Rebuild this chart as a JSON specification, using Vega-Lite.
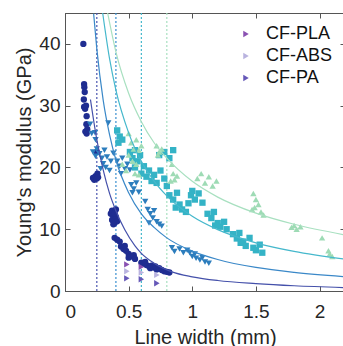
{
  "$schema": "https://vega.github.io/schema/vega-lite/v6.json",
  "width": 280,
  "height": 278,
  "autosize": {"type": "none"},
  "padding": {"left": 65, "top": 13, "right": 0, "bottom": 55},
  "background": "white",
  "config": {
    "view": {"stroke": "#555", "strokeWidth": 1},
    "font": "Liberation Sans",
    "axis": {"grid": false, "domainColor": "#555", "tickColor": "#555", "labelColor": "#262626", "titleColor": "#262626", "labelFontSize": 19, "titleFontSize": 20, "titleFontWeight": "normal", "tickSize": -5, "labelFont": "Liberation Sans", "titleFont": "Liberation Sans"},
    "legend": {"labelFont": "Liberation Sans"}
  },
  "datasets": {
    "rules": [
      {"x": 0.25, "c": "N"}, {"x": 0.4, "c": "B"}, {"x": 0.6, "c": "C"}, {"x": 0.8, "c": "G"}
    ],
    "curves": [
      {"c": "N", "x": 0.2, "y": 31}, {"c": "N", "x": 0.25, "y": 24.5}, {"c": "N", "x": 0.3, "y": 19.6}, {"c": "N", "x": 0.35, "y": 15.8}, {"c": "N", "x": 0.4, "y": 13.0}, {"c": "N", "x": 0.47, "y": 9.9}, {"c": "N", "x": 0.55, "y": 7.3}, {"c": "N", "x": 0.6, "y": 6.1}, {"c": "N", "x": 0.7, "y": 4.5}, {"c": "N", "x": 0.84, "y": 3.1}, {"c": "N", "x": 1.0, "y": 2.3}, {"c": "N", "x": 1.2, "y": 1.7}, {"c": "N", "x": 1.5, "y": 1.2}, {"c": "N", "x": 1.8, "y": 0.85}, {"c": "N", "x": 2.2, "y": 0.55},
      {"c": "B", "x": 0.225, "y": 44.9}, {"c": "B", "x": 0.25, "y": 39.2}, {"c": "B", "x": 0.3, "y": 30.9}, {"c": "B", "x": 0.35, "y": 25.3}, {"c": "B", "x": 0.4, "y": 21.2}, {"c": "B", "x": 0.5, "y": 15.9}, {"c": "B", "x": 0.6, "y": 12.5}, {"c": "B", "x": 0.7, "y": 10.3}, {"c": "B", "x": 0.8, "y": 8.6}, {"c": "B", "x": 1.0, "y": 6.46}, {"c": "B", "x": 1.2, "y": 5.1}, {"c": "B", "x": 1.5, "y": 3.81}, {"c": "B", "x": 1.8, "y": 3.01}, {"c": "B", "x": 2.2, "y": 2.32},
      {"c": "C", "x": 0.296, "y": 45}, {"c": "C", "x": 0.35, "y": 37.6}, {"c": "C", "x": 0.4, "y": 32.5}, {"c": "C", "x": 0.5, "y": 25.6}, {"c": "C", "x": 0.6, "y": 21.0}, {"c": "C", "x": 0.7, "y": 17.8}, {"c": "C", "x": 0.8, "y": 15.4}, {"c": "C", "x": 1.0, "y": 12.09}, {"c": "C", "x": 1.2, "y": 9.93}, {"c": "C", "x": 1.5, "y": 7.8}, {"c": "C", "x": 1.8, "y": 6.41}, {"c": "C", "x": 2.2, "y": 5.16},
      {"c": "G", "x": 0.335, "y": 45}, {"c": "G", "x": 0.4, "y": 38.7}, {"c": "G", "x": 0.5, "y": 32.0}, {"c": "G", "x": 0.6, "y": 27.4}, {"c": "G", "x": 0.7, "y": 24.0}, {"c": "G", "x": 0.8, "y": 21.5}, {"c": "G", "x": 1.0, "y": 17.75}, {"c": "G", "x": 1.2, "y": 15.2}, {"c": "G", "x": 1.5, "y": 12.6}, {"c": "G", "x": 1.8, "y": 10.8}, {"c": "G", "x": 2.2, "y": 9.08}
    ],
    "points": [
      {"s": "A", "x": 0.144, "y": 40.0}, {"s": "A", "x": 0.15, "y": 33.5}, {"s": "A", "x": 0.152, "y": 33.0}, {"s": "A", "x": 0.155, "y": 32.2}, {"s": "A", "x": 0.148, "y": 31.0}, {"s": "A", "x": 0.15, "y": 29.8}, {"s": "A", "x": 0.158, "y": 29.5}, {"s": "A", "x": 0.165, "y": 30.0}, {"s": "A", "x": 0.17, "y": 28.3}, {"s": "A", "x": 0.168, "y": 27.0}, {"s": "A", "x": 0.175, "y": 26.2}, {"s": "A", "x": 0.17, "y": 25.5}, {"s": "A", "x": 0.16, "y": 25.8},
      {"s": "A", "x": 0.22, "y": 18.3}, {"s": "A", "x": 0.23, "y": 18.0}, {"s": "A", "x": 0.24, "y": 18.6}, {"s": "A", "x": 0.25, "y": 18.2}, {"s": "A", "x": 0.255, "y": 19.0}, {"s": "A", "x": 0.26, "y": 18.4}, {"s": "A", "x": 0.25, "y": 22.5},
      {"s": "A", "x": 0.36, "y": 12.5}, {"s": "A", "x": 0.37, "y": 13.0}, {"s": "A", "x": 0.38, "y": 12.2}, {"s": "A", "x": 0.37, "y": 11.5}, {"s": "A", "x": 0.39, "y": 11.0}, {"s": "A", "x": 0.4, "y": 12.0}, {"s": "A", "x": 0.41, "y": 11.3}, {"s": "A", "x": 0.38, "y": 10.8}, {"s": "A", "x": 0.4, "y": 13.2}, {"s": "A", "x": 0.39, "y": 12.6},
      {"s": "A", "x": 0.39, "y": 8.6}, {"s": "A", "x": 0.41, "y": 8.3}, {"s": "A", "x": 0.43, "y": 8.0}, {"s": "A", "x": 0.44, "y": 7.2}, {"s": "A", "x": 0.46, "y": 6.8}, {"s": "A", "x": 0.48, "y": 6.5}, {"s": "A", "x": 0.5, "y": 6.0}, {"s": "A", "x": 0.52, "y": 5.6}, {"s": "A", "x": 0.5, "y": 5.4}, {"s": "A", "x": 0.54, "y": 5.8}, {"s": "A", "x": 0.55, "y": 5.2}, {"s": "A", "x": 0.47, "y": 7.3},
      {"s": "A", "x": 0.6, "y": 4.6}, {"s": "A", "x": 0.62, "y": 4.4}, {"s": "A", "x": 0.64, "y": 4.2}, {"s": "A", "x": 0.66, "y": 4.0}, {"s": "A", "x": 0.68, "y": 4.1}, {"s": "A", "x": 0.7, "y": 3.8}, {"s": "A", "x": 0.72, "y": 3.5}, {"s": "A", "x": 0.74, "y": 3.7}, {"s": "A", "x": 0.76, "y": 3.4}, {"s": "A", "x": 0.78, "y": 3.2}, {"s": "A", "x": 0.8, "y": 3.1}, {"s": "A", "x": 0.82, "y": 3.0}, {"s": "A", "x": 0.63, "y": 4.7}, {"s": "A", "x": 0.67, "y": 3.7}, {"s": "A", "x": 0.71, "y": 4.0},
      {"s": "B", "x": 0.197, "y": 27.0}, {"s": "B", "x": 0.21, "y": 25.5}, {"s": "B", "x": 0.236, "y": 25.6}, {"s": "B", "x": 0.24, "y": 24.5}, {"s": "B", "x": 0.34, "y": 27.2},
      {"s": "B", "x": 0.22, "y": 22.5}, {"s": "B", "x": 0.24, "y": 21.8}, {"s": "B", "x": 0.25, "y": 23.0}, {"s": "B", "x": 0.27, "y": 22.2}, {"s": "B", "x": 0.29, "y": 21.5}, {"s": "B", "x": 0.31, "y": 22.8}, {"s": "B", "x": 0.33, "y": 21.7}, {"s": "B", "x": 0.3, "y": 20.6}, {"s": "B", "x": 0.28, "y": 19.8}, {"s": "B", "x": 0.32, "y": 20.0}, {"s": "B", "x": 0.36, "y": 21.0}, {"s": "B", "x": 0.38, "y": 22.3}, {"s": "B", "x": 0.35, "y": 19.5},
      {"s": "B", "x": 0.41, "y": 21.0}, {"s": "B", "x": 0.43, "y": 20.2}, {"s": "B", "x": 0.45, "y": 21.5}, {"s": "B", "x": 0.47, "y": 19.8}, {"s": "B", "x": 0.49, "y": 20.5}, {"s": "B", "x": 0.51, "y": 19.6}, {"s": "B", "x": 0.44, "y": 19.0},
      {"s": "B", "x": 0.52, "y": 17.2}, {"s": "B", "x": 0.54, "y": 16.5}, {"s": "B", "x": 0.56, "y": 17.5}, {"s": "B", "x": 0.58, "y": 16.0}, {"s": "B", "x": 0.53, "y": 15.9},
      {"s": "B", "x": 0.63, "y": 14.5}, {"s": "B", "x": 0.65, "y": 13.2}, {"s": "B", "x": 0.67, "y": 12.5}, {"s": "B", "x": 0.69, "y": 11.8}, {"s": "B", "x": 0.7, "y": 13.0}, {"s": "B", "x": 0.72, "y": 11.2}, {"s": "B", "x": 0.74, "y": 10.8}, {"s": "B", "x": 0.66, "y": 11.0}, {"s": "B", "x": 0.76, "y": 10.5},
      {"s": "B", "x": 0.84, "y": 7.0}, {"s": "B", "x": 0.86, "y": 6.4}, {"s": "B", "x": 0.9, "y": 6.8}, {"s": "B", "x": 0.93, "y": 6.2}, {"s": "B", "x": 0.96, "y": 6.6},
      {"s": "B", "x": 0.98, "y": 6.2}, {"s": "B", "x": 1.0, "y": 5.6}, {"s": "B", "x": 1.03, "y": 5.3}, {"s": "B", "x": 1.06, "y": 5.0}, {"s": "B", "x": 1.1, "y": 4.7}, {"s": "B", "x": 1.13, "y": 4.5}, {"s": "B", "x": 1.02, "y": 6.0}, {"s": "B", "x": 1.08, "y": 5.4},
      {"s": "C", "x": 0.41, "y": 26.0}, {"s": "C", "x": 0.43, "y": 25.0}, {"s": "C", "x": 0.42, "y": 24.0}, {"s": "C", "x": 0.45, "y": 24.5},
      {"s": "C", "x": 0.51, "y": 22.5}, {"s": "C", "x": 0.53, "y": 21.5}, {"s": "C", "x": 0.55, "y": 22.8}, {"s": "C", "x": 0.57, "y": 21.0}, {"s": "C", "x": 0.59, "y": 22.0}, {"s": "C", "x": 0.55, "y": 20.0}, {"s": "C", "x": 0.6, "y": 19.0},
      {"s": "C", "x": 0.62, "y": 20.2}, {"s": "C", "x": 0.64, "y": 18.5}, {"s": "C", "x": 0.66, "y": 19.5}, {"s": "C", "x": 0.68, "y": 17.8}, {"s": "C", "x": 0.7, "y": 18.8}, {"s": "C", "x": 0.72, "y": 17.5}, {"s": "C", "x": 0.75, "y": 19.5}, {"s": "C", "x": 0.78, "y": 18.2}, {"s": "C", "x": 0.8, "y": 17.0}, {"s": "C", "x": 0.74, "y": 22.0}, {"s": "C", "x": 0.78, "y": 22.5}, {"s": "C", "x": 0.82, "y": 21.5}, {"s": "C", "x": 0.85, "y": 22.8},
      {"s": "C", "x": 0.82, "y": 15.5}, {"s": "C", "x": 0.85, "y": 14.8}, {"s": "C", "x": 0.88, "y": 15.9}, {"s": "C", "x": 0.9, "y": 14.0}, {"s": "C", "x": 0.92, "y": 13.2}, {"s": "C", "x": 0.95, "y": 12.8}, {"s": "C", "x": 0.97, "y": 14.2}, {"s": "C", "x": 0.87, "y": 13.5},
      {"s": "C", "x": 0.99, "y": 15.5}, {"s": "C", "x": 1.02, "y": 14.8}, {"s": "C", "x": 1.05, "y": 15.8}, {"s": "C", "x": 1.08, "y": 14.3}, {"s": "C", "x": 1.0, "y": 16.2},
      {"s": "C", "x": 1.12, "y": 12.5}, {"s": "C", "x": 1.15, "y": 11.8}, {"s": "C", "x": 1.17, "y": 12.8}, {"s": "C", "x": 1.2, "y": 11.0}, {"s": "C", "x": 1.22, "y": 10.4}, {"s": "C", "x": 1.25, "y": 11.2}, {"s": "C", "x": 1.27, "y": 10.0}, {"s": "C", "x": 1.18, "y": 10.6},
      {"s": "C", "x": 1.32, "y": 9.2}, {"s": "C", "x": 1.35, "y": 8.5}, {"s": "C", "x": 1.37, "y": 9.4}, {"s": "C", "x": 1.4, "y": 8.0}, {"s": "C", "x": 1.42, "y": 7.3}, {"s": "C", "x": 1.45, "y": 8.6}, {"s": "C", "x": 1.48, "y": 7.0}, {"s": "C", "x": 1.5, "y": 6.6}, {"s": "C", "x": 1.53, "y": 7.5}, {"s": "C", "x": 1.55, "y": 6.2}, {"s": "C", "x": 1.38, "y": 7.8},
      {"s": "D", "x": 0.5, "y": 25.5}, {"s": "D", "x": 0.52, "y": 24.0}, {"s": "D", "x": 0.54, "y": 23.0}, {"s": "D", "x": 0.56, "y": 24.5}, {"s": "D", "x": 0.58, "y": 22.8}, {"s": "D", "x": 0.6, "y": 23.5}, {"s": "D", "x": 0.5, "y": 22.0}, {"s": "D", "x": 0.53, "y": 21.0}, {"s": "D", "x": 0.56, "y": 20.5}, {"s": "D", "x": 0.55, "y": 19.0}, {"s": "D", "x": 0.58, "y": 18.8}, {"s": "D", "x": 0.45, "y": 20.5}, {"s": "D", "x": 0.48, "y": 19.5},
      {"s": "D", "x": 0.72, "y": 23.5}, {"s": "D", "x": 0.74, "y": 22.5}, {"s": "D", "x": 0.76, "y": 23.0}, {"s": "D", "x": 0.73, "y": 22.0},
      {"s": "D", "x": 0.84, "y": 20.5}, {"s": "D", "x": 0.85, "y": 19.0}, {"s": "D", "x": 0.86, "y": 18.0}, {"s": "D", "x": 0.88, "y": 18.6}, {"s": "D", "x": 0.83, "y": 17.8},
      {"s": "D", "x": 1.04, "y": 18.2}, {"s": "D", "x": 1.07, "y": 19.0}, {"s": "D", "x": 1.1, "y": 17.5}, {"s": "D", "x": 1.13, "y": 18.5}, {"s": "D", "x": 1.16, "y": 17.0}, {"s": "D", "x": 1.19, "y": 17.8},
      {"s": "D", "x": 1.48, "y": 15.8}, {"s": "D", "x": 1.5, "y": 14.8}, {"s": "D", "x": 1.49, "y": 13.5}, {"s": "D", "x": 1.52, "y": 14.0}, {"s": "D", "x": 1.54, "y": 12.8}, {"s": "D", "x": 1.56, "y": 12.3}, {"s": "D", "x": 1.47, "y": 13.2},
      {"s": "D", "x": 1.78, "y": 10.3}, {"s": "D", "x": 1.8, "y": 10.6}, {"s": "D", "x": 1.82, "y": 10.0}, {"s": "D", "x": 1.85, "y": 10.4},
      {"s": "D", "x": 2.02, "y": 8.6}, {"s": "D", "x": 2.07, "y": 6.5}, {"s": "D", "x": 2.08, "y": 6.0}, {"s": "D", "x": 2.1, "y": 5.6},
      {"s": "CF-PLA", "x": 0.486, "y": 4.3}, {"s": "CF-PLA", "x": 0.6, "y": 3.9},
      {"s": "CF-ABS", "x": 0.486, "y": 3.2}, {"s": "CF-ABS", "x": 0.6, "y": 3.0}, {"s": "CF-ABS", "x": 0.722, "y": 2.6},
      {"s": "CF-PA", "x": 0.486, "y": 2.05}, {"s": "CF-PA", "x": 0.6, "y": 1.9}, {"s": "CF-PA", "x": 0.722, "y": 1.25}
    ]
  },
  "layer": [
    {
      "data": {"name": "rules"},
      "mark": {"type": "rule", "strokeDash": [2, 2], "strokeWidth": 1.2},
      "encoding": {
        "x": {"field": "x", "type": "quantitative", "scale": {"domain": [0, 2.2], "nice": false, "zero": false},
              "axis": {"orient": "bottom", "values": [0, 0.5, 1, 1.5, 2], "format": "~g", "title": "Line width (mm)", "labelPadding": 16, "titlePadding": 6}},
        "color": {"field": "c", "type": "nominal", "scale": {"domain": ["N", "B", "C", "G"], "range": ["#4a55b0", "#3a8fd0", "#45b8cc", "#a8e0c0"]}, "legend": null}
      }
    },
    {
      "data": {"name": "points"},
      "mark": {"type": "point", "filled": true, "opacity": 1, "size": 40},
      "encoding": {
        "x": {"field": "x", "type": "quantitative", "scale": {"domain": [0, 2.2], "nice": false, "zero": false}, "axis": null},
        "y": {"field": "y", "type": "quantitative", "scale": {"domain": [0, 45], "nice": false},
              "axis": {"orient": "left", "values": [0, 10, 20, 30, 40], "title": "Young's modulus (GPa)", "labelPadding": 10, "titlePadding": 4}},
        "color": {"field": "s", "type": "nominal",
                  "scale": {"domain": ["A", "B", "C", "D", "CF-PLA", "CF-ABS", "CF-PA"], "range": ["#1f2d91", "#2c7dbd", "#34b3c6", "#9edbb5", "#8a52b2", "#b9b3df", "#6658b8"]},
                  "legend": {"values": ["CF-PLA", "CF-ABS", "CF-PA"], "title": null, "orient": "none", "legendX": 172, "legendY": 12, "labelFontSize": 18, "labelColor": "#111", "symbolSize": 40, "rowPadding": 4, "labelOffset": 11}},
        "shape": {"field": "s", "type": "nominal",
                  "scale": {"domain": ["A", "B", "C", "D", "CF-PLA", "CF-ABS", "CF-PA"], "range": ["circle", "triangle-down", "square", "triangle-up", "triangle-right", "triangle-right", "triangle-right"]},
                  "legend": {"values": ["CF-PLA", "CF-ABS", "CF-PA"], "title": null, "orient": "none", "legendX": 172, "legendY": 12, "labelFontSize": 18, "labelColor": "#111", "symbolSize": 40, "rowPadding": 4, "labelOffset": 11}}
      }
    },
    {
      "data": {"name": "curves"},
      "mark": {"type": "line", "interpolate": "monotone", "strokeWidth": 1.2, "clip": true},
      "encoding": {
        "x": {"field": "x", "type": "quantitative", "scale": {"domain": [0, 2.2], "nice": false, "zero": false},
              "axis": {"orient": "top", "values": [0, 0.5, 1, 1.5, 2], "labels": false, "title": null}},
        "y": {"field": "y", "type": "quantitative", "scale": {"domain": [0, 45], "nice": false},
              "axis": {"orient": "right", "values": [0, 10, 20, 30, 40], "labels": false, "title": null}},
        "color": {"field": "c", "type": "nominal", "scale": {"domain": ["N", "B", "C", "G"], "range": ["#4450aa", "#3a88c8", "#45b8cc", "#a8e0c0"]}, "legend": null},
        "order": {"field": "x", "type": "quantitative"}
      }
    }
  ],
  "resolve": {"scale": {"color": "independent", "shape": "independent"}, "axis": {"x": "independent", "y": "independent"}}
}
